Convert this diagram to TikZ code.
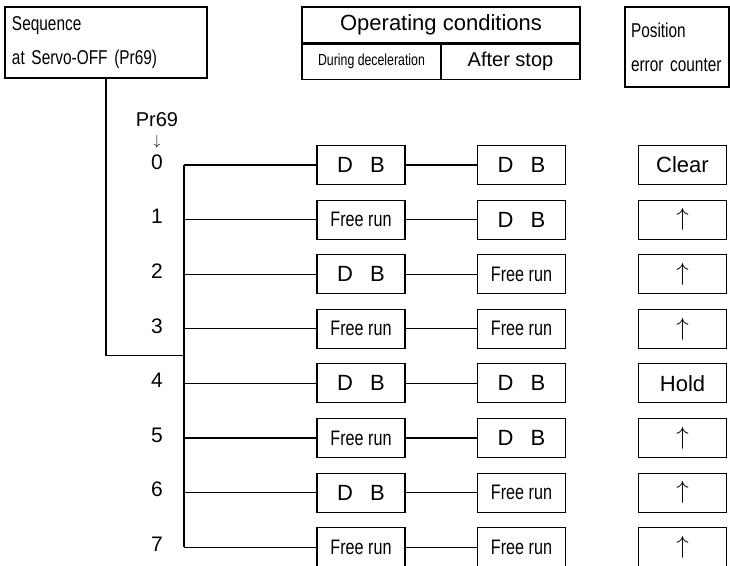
\documentclass[tikz,border=0pt]{standalone}
\usepackage{fontspec}
\setmainfont{Liberation Sans}
\newfontfamily\narrowfont[FakeStretch=0.77]{Liberation Sans}
\newcommand{\dbtext}{D\hspace{17pt}B}
\newcommand{\holdup}{$\uparrow$}

\begin{document}
\begin{tikzpicture}[
    x=1pt, y=-1pt,
    node distance=54.6pt,
    hdrbox/.style={draw, line width=1.1pt, inner sep=0pt},
    cellbox/.style={draw, line width=1.1pt, minimum width=88pt, minimum height=39pt,
        inner sep=0pt, font=\fontsize{22}{26}\selectfont},
    dbcell/.style={cellbox},
    frcell/.style={cellbox, font=\narrowfont\fontsize{21}{24}\selectfont},
    upcell/.style={cellbox, font=\fontsize{25}{26}\selectfont},
    numlabel/.style={font=\fontsize{21}{24}\selectfont},
    wire/.style={line width=1.1pt},
    ]
    \useasboundingbox (0,0) rectangle (730,565);
    % header boxes
    \node[hdrbox, minimum width=202pt, minimum height=71pt, text width=188pt, align=left,
        font=\narrowfont\fontsize{20}{34}\selectfont] (seqhdr) at (106,42.5)
    {Sequence\\at Servo-OFF (Pr69)};
    \node[hdrbox, minimum width=278pt, minimum height=36pt,
        font=\fontsize{22}{26}\selectfont] (opcond) at (441,25) {Operating conditions};
    \node[hdrbox, minimum width=139pt, minimum height=35pt, anchor=north west,
        font=\narrowfont\fontsize{16}{20}\selectfont] (decel) at (opcond.south west)
    {During deceleration};
    \node[hdrbox, minimum width=139pt, minimum height=35pt, anchor=north east,
        font=\fontsize{20}{24}\selectfont] (afterstop) at (opcond.south east) {After stop};
    \node[hdrbox, minimum width=104pt, minimum height=80pt, text width=92pt, align=left,
        font=\narrowfont\fontsize{20}{34}\selectfont] (poshdr) at (677,47)
    {Position\\error counter};

    % parameter values
    \node[align=center, inner sep=0pt, font=\fontsize{20}{19}\selectfont] (prname) at (157,130)
    {Pr69\\{\fontsize{14}{14}\selectfont$\downarrow$}};
    \node[numlabel] (d0) at (157,162) {0};
    \node[numlabel, below of=d0] (d1) {1};
    \node[numlabel, below of=d1] (d2) {2};
    \node[numlabel, below of=d2] (d3) {3};
    \node[numlabel, below of=d3] (d4) {4};
    \node[numlabel, below of=d4] (d5) {5};
    \node[numlabel, below of=d5] (d6) {6};
    \node[numlabel, below of=d6] (d7) {7};

    % during deceleration
    \node[dbcell] (a0) at (361,165) {\dbtext};
    \node[frcell, below of=a0] (a1) {Free run};
    \node[dbcell, below of=a1] (a2) {\dbtext};
    \node[frcell, below of=a2] (a3) {Free run};
    \node[dbcell, below of=a3] (a4) {\dbtext};
    \node[frcell, below of=a4] (a5) {Free run};
    \node[dbcell, below of=a5] (a6) {\dbtext};
    \node[frcell, below of=a6] (a7) {Free run};

    % after stop
    \node[dbcell] (b0) at (521.5,165) {\dbtext};
    \node[dbcell, below of=b0] (b1) {\dbtext};
    \node[frcell, below of=b1] (b2) {Free run};
    \node[frcell, below of=b2] (b3) {Free run};
    \node[dbcell, below of=b3] (b4) {\dbtext};
    \node[dbcell, below of=b4] (b5) {\dbtext};
    \node[frcell, below of=b5] (b6) {Free run};
    \node[frcell, below of=b6] (b7) {Free run};

    % position error counter
    \node[cellbox] (c0) at (682.5,165) {Clear};
    \node[upcell, below of=c0] (c1) {\holdup};
    \node[upcell, below of=c1] (c2) {\holdup};
    \node[upcell, below of=c2] (c3) {\holdup};
    \node[cellbox, below of=c3] (c4) {Hold};
    \node[upcell, below of=c4] (c5) {\holdup};
    \node[upcell, below of=c5] (c6) {\holdup};
    \node[upcell, below of=c6] (c7) {\holdup};

    % wiring
    \coordinate (trunk) at (184,0);
    \coordinate (join) at (184,355.5);
    \draw[wire] (a0.west -| trunk) -- (a7.west -| trunk);
    \draw[wire] (seqhdr.south) |- (join);
    \foreach \r in {0,...,7} {
        \draw[wire] (a\r.west -| trunk) -- (a\r.west);
        \draw[wire] (a\r) -- (b\r);
    }
\end{tikzpicture}
\end{document}
